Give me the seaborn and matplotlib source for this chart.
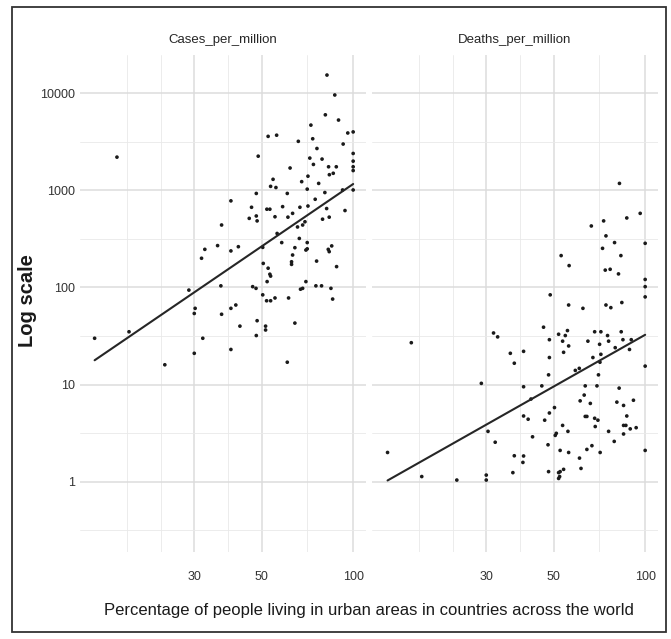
import numpy as np
import pandas as pd
import matplotlib
matplotlib.use("Agg")
import matplotlib.pyplot as plt
import seaborn as sns
from matplotlib.patches import Rectangle
from matplotlib.ticker import FixedLocator, NullFormatter

# values
cases_urban = [82, 87, 81, 89.5, 72.6, 96, 100, 52.5, 56, 66,
               73.6, 92.7, 76, 48.7, 16.7, 72, 79, 100, 100, 100,
               100, 74, 83, 88, 62, 86, 83.5, 71, 54.5, 53.5,
               55.7, 67.7, 77, 70.6, 60.7, 80.7, 92.3, 100, 48, 39.6,
               75, 46.3, 52, 53.2, 58.6, 66.8, 71, 81.8, 94, 48,
               45.5, 48.3, 55.3, 61, 63.2, 83.4, 79.3, 69.4, 68.2, 65.6,
               36.9, 56.2, 66.5, 58.2, 70.6, 70.6, 69.9, 82.8, 83.4, 85,
               64.3, 50.4, 35.8, 41.9, 39.6, 32.5, 31.7, 63.2, 62.7, 62.7,
               75.8, 50.6, 52.5, 53.2, 53.5, 52.1, 88.2, 69.9, 68.2, 67.1,
               75.4, 78.7, 84.5, 46.7, 47.9, 36.7, 28.8, 50.4, 51.9, 53.5,
               55.3, 61.3, 85.6, 30.2, 39.6, 41.1, 30, 36.9, 42.4, 48.3,
               51.5, 51.5, 64.3, 14.1, 18.3, 32, 48, 39.6, 24, 30, 60.7]
cases_pm = [15400, 9600, 6000, 5300, 4700, 3900, 4000, 3600, 3700, 3200,
            3400, 3000, 2700, 2250, 2200, 2150, 2100, 2400, 2000, 1750,
            1600, 1850, 1750, 1750, 1700, 1500, 1450, 1400, 1300, 1100,
            1070, 1230, 1180, 1030, 930, 950, 1010, 1010, 930, 780,
            810, 670, 640, 640, 680, 670, 690, 650, 620, 545,
            515, 485, 535, 530, 580, 530, 505, 475, 440, 420,
            440, 360, 320, 290, 290, 250, 243, 247, 234, 268,
            257, 259, 270, 263, 238, 247, 200, 216, 184, 173,
            187, 177, 158, 137, 131, 115, 164, 115, 98, 96,
            104, 104, 98, 102, 98, 104, 94, 84, 73, 73,
            78, 78, 76, 61, 61, 66, 54, 53, 40, 45.5,
            40, 36.5, 43, 30, 35, 30, 32, 23, 16, 21, 17]

deaths_urban = [82.3, 96.3, 87, 66.5, 73, 74.3, 79.3, 100, 72.4, 83.2,
                52.9, 56.2, 73.9, 76.7, 81.7, 100, 100, 100, 48.7, 56,
                62.4, 74.3, 77.1, 83.8, 46.3, 31.7, 32.7, 17, 51.9, 55.5,
                54.6, 53.5, 48.4, 56, 53.9, 48.4, 36, 39.8, 37.1, 64.8,
                68.2, 71.5, 75.2, 70.8, 75.8, 83.4, 84.5, 90, 79.7, 88.8,
                67.3, 71.5, 71, 100, 58.9, 60.7, 70.2, 48.1, 28.9, 39.8,
                45.7, 63.5, 69.4, 82.1, 42.1, 50.3, 48.4, 61.1, 63, 66,
                63.5, 64.3, 68.2, 69.9, 80.7, 84.9, 91.5, 87, 68.5, 84.9,
                86.4, 89.3, 93.4, 84.9, 75.8, 79.1, 100, 71.1, 66.8, 64.3,
                60.8, 61.5, 56, 52.5, 51, 50.6, 53.5, 55.7, 47.9, 42.6,
                39.8, 41.2, 46.7, 30.4, 32.1, 37.1, 39.8, 39.6, 36.7, 48.1,
                51.9, 52.5, 53.9, 52.3, 51.9, 30, 30, 24, 18.4, 14.2]
deaths_pm = [1180, 580, 520, 430, 485, 340, 290, 285, 253, 213,
             213, 168, 151, 154, 138, 121, 102, 80, 84, 66,
             61, 66, 62, 70, 39, 34, 31, 27, 33, 36,
             32, 28, 29, 25, 21.5, 19, 21, 22, 16.6, 28,
             35, 35, 32, 26, 28, 35, 29, 29, 24, 23,
             19, 20.5, 17, 15.5, 14, 14.7, 12.6, 12.6, 10.3, 9.5,
             9.7, 9.7, 9.7, 9.2, 7.1, 5.8, 5.1, 6.8, 7.8, 6.4,
             4.7, 4.7, 4.5, 4.3, 6.6, 6.1, 6.9, 4.75, 3.7, 3.8,
             3.8, 3.5, 3.6, 3.1, 3.3, 2.6, 2.1, 2.0, 2.35, 2.15,
             1.75, 1.37, 2.0, 2.1, 3.15, 3.0, 3.8, 3.3, 2.4, 2.9,
             4.75, 4.4, 4.3, 3.3, 2.55, 1.85, 1.84, 1.58, 1.24, 1.27,
             1.24, 1.27, 1.34, 1.13, 1.08, 1.17, 1.04, 1.04, 1.13, 2.0]

panels = ["Cases_per_million", "Deaths_per_million"]
x_breaks = [30, 50, 100]
y_breaks = [1, 10, 100, 1000, 10000]

df = pd.concat([
    pd.DataFrame({"urban": cases_urban, "value": cases_pm, "metric": panels[0]}),
    pd.DataFrame({"urban": deaths_urban, "value": deaths_pm, "metric": panels[1]}),
], ignore_index=True)

sns.set_theme(style="white")
plt.rcParams["font.family"] = ["Liberation Sans", "DejaVu Sans"]

g = sns.FacetGrid(df, col="metric", col_order=panels, sharex=True, sharey=True,
                  height=5, aspect=0.6, despine=False)
g.map_dataframe(sns.scatterplot, x="urban", y="value", color="#1a1a1a", s=7,
                edgecolor="none", linewidth=0)
g.set_titles("{col_name}", size=9.5, pad=9)
g.set_axis_labels("", "")

fig = g.figure
fig.set_size_inches(6.71, 6.39)
fig.subplots_adjust(left=0.1192, right=0.9806, bottom=0.1362, top=0.9139, wspace=0.021)

# ggplot style minor breaks (midpoints in log space)
lb = np.log10(x_breaks)
bd = lb[1] - lb[0]
ext = np.concatenate([[lb[0] - bd], lb])
x_minor = 10 ** np.concatenate([[ext[0]], (ext[:-1] + ext[1:]) / 2])
y_minor = 10 ** (np.log10(y_breaks + [100000]) - 0.5)

for name, ax in g.axes_dict.items():
    sub = df[df["metric"] == name]
    ax.set_xscale("log")
    ax.set_yscale("log")
    # straight line fitted in log-log space
    k, b = np.polyfit(np.log10(sub["urban"]), np.log10(sub["value"]), 1)
    xs = np.array([sub["urban"].min(), sub["urban"].max()])
    fit = pd.DataFrame({"urban": xs, "value": 10 ** (b + k * np.log10(xs))})
    sns.lineplot(data=fit, x="urban", y="value", ax=ax, color="#262626", linewidth=1.5)

    ax.set_xlim(12.62, 110.2)
    ax.set_ylim(0.189, 24770)
    ax.xaxis.set_major_locator(FixedLocator(x_breaks))
    ax.xaxis.set_minor_locator(FixedLocator(x_minor))
    ax.yaxis.set_major_locator(FixedLocator(y_breaks))
    ax.yaxis.set_minor_locator(FixedLocator(y_minor))
    ax.xaxis.set_minor_formatter(NullFormatter())
    ax.yaxis.set_minor_formatter(NullFormatter())
    ax.set_xticklabels([str(v) for v in x_breaks])
    ax.grid(which="major", color="#dcdcdc", linewidth=1.1)
    ax.grid(which="minor", color="#e9e9e9", linewidth=0.6)
    ax.set_axisbelow(True)
    ax.tick_params(which="both", length=0, labelsize=9, colors="#333333")
    ax.tick_params(axis="x", pad=14)
    ax.tick_params(axis="y", pad=3.5)
    for sp in ax.spines.values():
        sp.set_visible(False)
    ax.set_xlabel("")
    ax.set_ylabel("")

g.axes[0, 0].set_yticklabels([str(v) for v in y_breaks])

fig.text(0.55, 0.044, "Percentage of people living in urban areas in countries across the world",
         ha="center", va="center", fontsize=12, color="#1a1a1a")
fig.text(0.041, 0.529, "Log scale", rotation=90, ha="center", va="center",
         fontsize=14.5, fontweight="bold", color="#1a1a1a")

fig.patches.append(Rectangle((0.018, 0.011), 0.9745, 0.978, transform=fig.transFigure,
                             fill=False, edgecolor="#333333", linewidth=1.3))

fig.savefig("out.png", dpi=100)
